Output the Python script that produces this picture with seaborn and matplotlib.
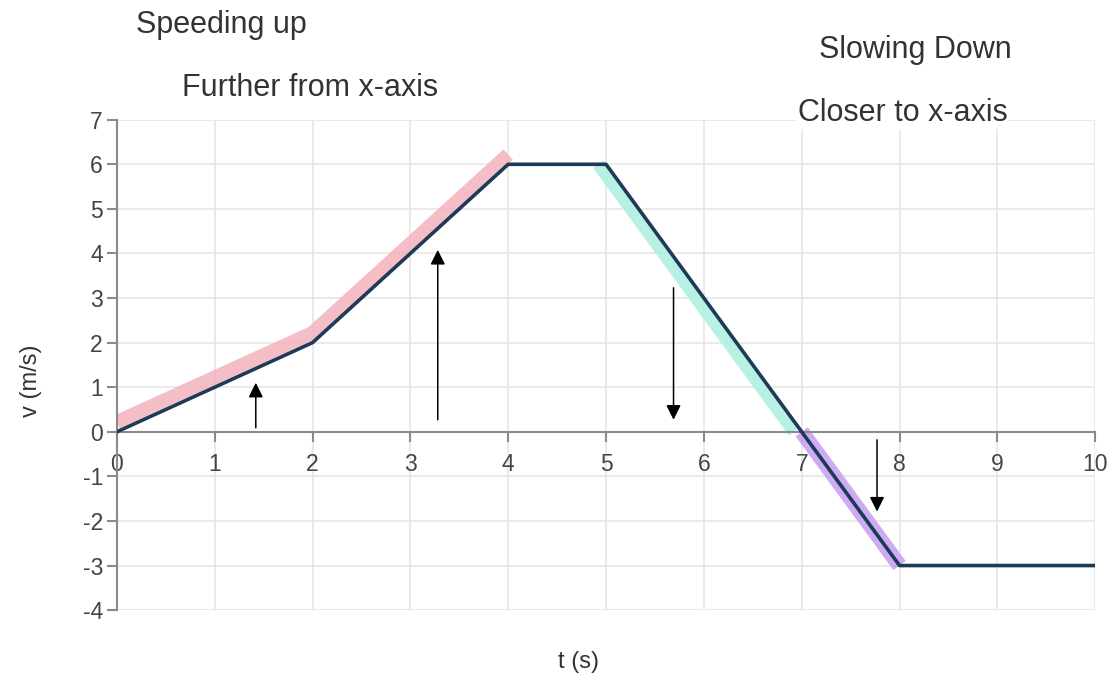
import matplotlib
matplotlib.use("Agg")
import matplotlib.pyplot as plt
import seaborn as sns
import pandas as pd

# velocity-time data
t = [0, 2, 4, 5, 7, 8, 10]
v = [0, 2, 6, 6, 0, -3, -3]

# arrows: (x, y_tail, y_head)
arrows = [(1.42, 0.09, 1.1), (3.28, 0.27, 4.08), (5.69, 3.23, 0.27), (7.77, -0.18, -1.79)]

notes = [("Speeding up", 1.07, 9.13), ("Further from x-axis", 1.97, 7.71),
         ("Slowing Down", 8.16, 8.56), ("Closer to x-axis", 8.03, 7.15)]

sns.set_theme(style="whitegrid")
plt.rcParams['font.family'] = ['Liberation Sans', 'DejaVu Sans']
plt.rcParams['axes.unicode_minus'] = False

df = pd.DataFrame({'t': t, 'v': v})

fig = plt.figure(figsize=(11.13, 6.84), dpi=100)
ax = fig.add_axes([0.105, 0.108, 0.879, 0.717])

# highlighter strokes along parts of the line
ax.plot(t[0:3], [y + 0.22 for y in v[0:3]], color='#f4b6bf', lw=10, alpha=0.9,
        solid_capstyle='butt', zorder=2)
ax.plot([x - 0.08 for x in t[3:5]], v[3:5], color='#aef0e0', lw=9, alpha=0.9,
        solid_capstyle='butt', zorder=2)
ax.plot(t[4:6], v[4:6], color='#c9a2f2', lw=11, alpha=0.9,
        solid_capstyle='butt', zorder=2)

sns.lineplot(data=df, x='t', y='v', color='#1f3a57', lw=2.6, ax=ax, zorder=3)

for x, y0, y1 in arrows:
    ax.annotate('', xy=(x, y1), xytext=(x, y0),
                arrowprops=dict(arrowstyle='-|>', color='black', lw=1.1,
                                mutation_scale=22, shrinkA=0, shrinkB=0), zorder=4)

for txt, x, y in notes:
    ax.text(x, y, txt, ha='center', va='center', fontsize=22, color='#333333',
            clip_on=False, bbox=dict(facecolor='white', edgecolor='none', pad=0.5))

ax.set_xlim(0, 10)
ax.set_ylim(-4, 7)
ax.set_xticks(range(0, 11))
ax.set_yticks(range(-4, 8))
ax.grid(True, color='#e6e6e6', lw=1.2)

for s in ['top', 'right']:
    ax.spines[s].set_visible(False)
ax.spines['bottom'].set_position(('data', 0))
ax.spines['bottom'].set_color('#8a8a8a')
ax.spines['left'].set_color('#8a8a8a')
ax.spines['bottom'].set_linewidth(1.5)
ax.spines['left'].set_linewidth(1.5)
ax.tick_params(axis='both', length=7, width=1.5, color='#8a8a8a', labelsize=16.5,
               labelcolor='#444444', direction='out', bottom=True, left=True)
ax.tick_params(axis='x', pad=8)
ax.tick_params(axis='y', pad=3)

ax.set_xlabel('')
ax.set_ylabel('')
fig.text(0.52, 0.032, 't (s)', ha='center', va='center', fontsize=17, color='#333333')
fig.text(0.028, 0.444, 'v (m/s)', ha='center', va='center', fontsize=17, color='#333333',
         rotation=90)

fig.savefig('out.png', dpi=100, facecolor='white')
